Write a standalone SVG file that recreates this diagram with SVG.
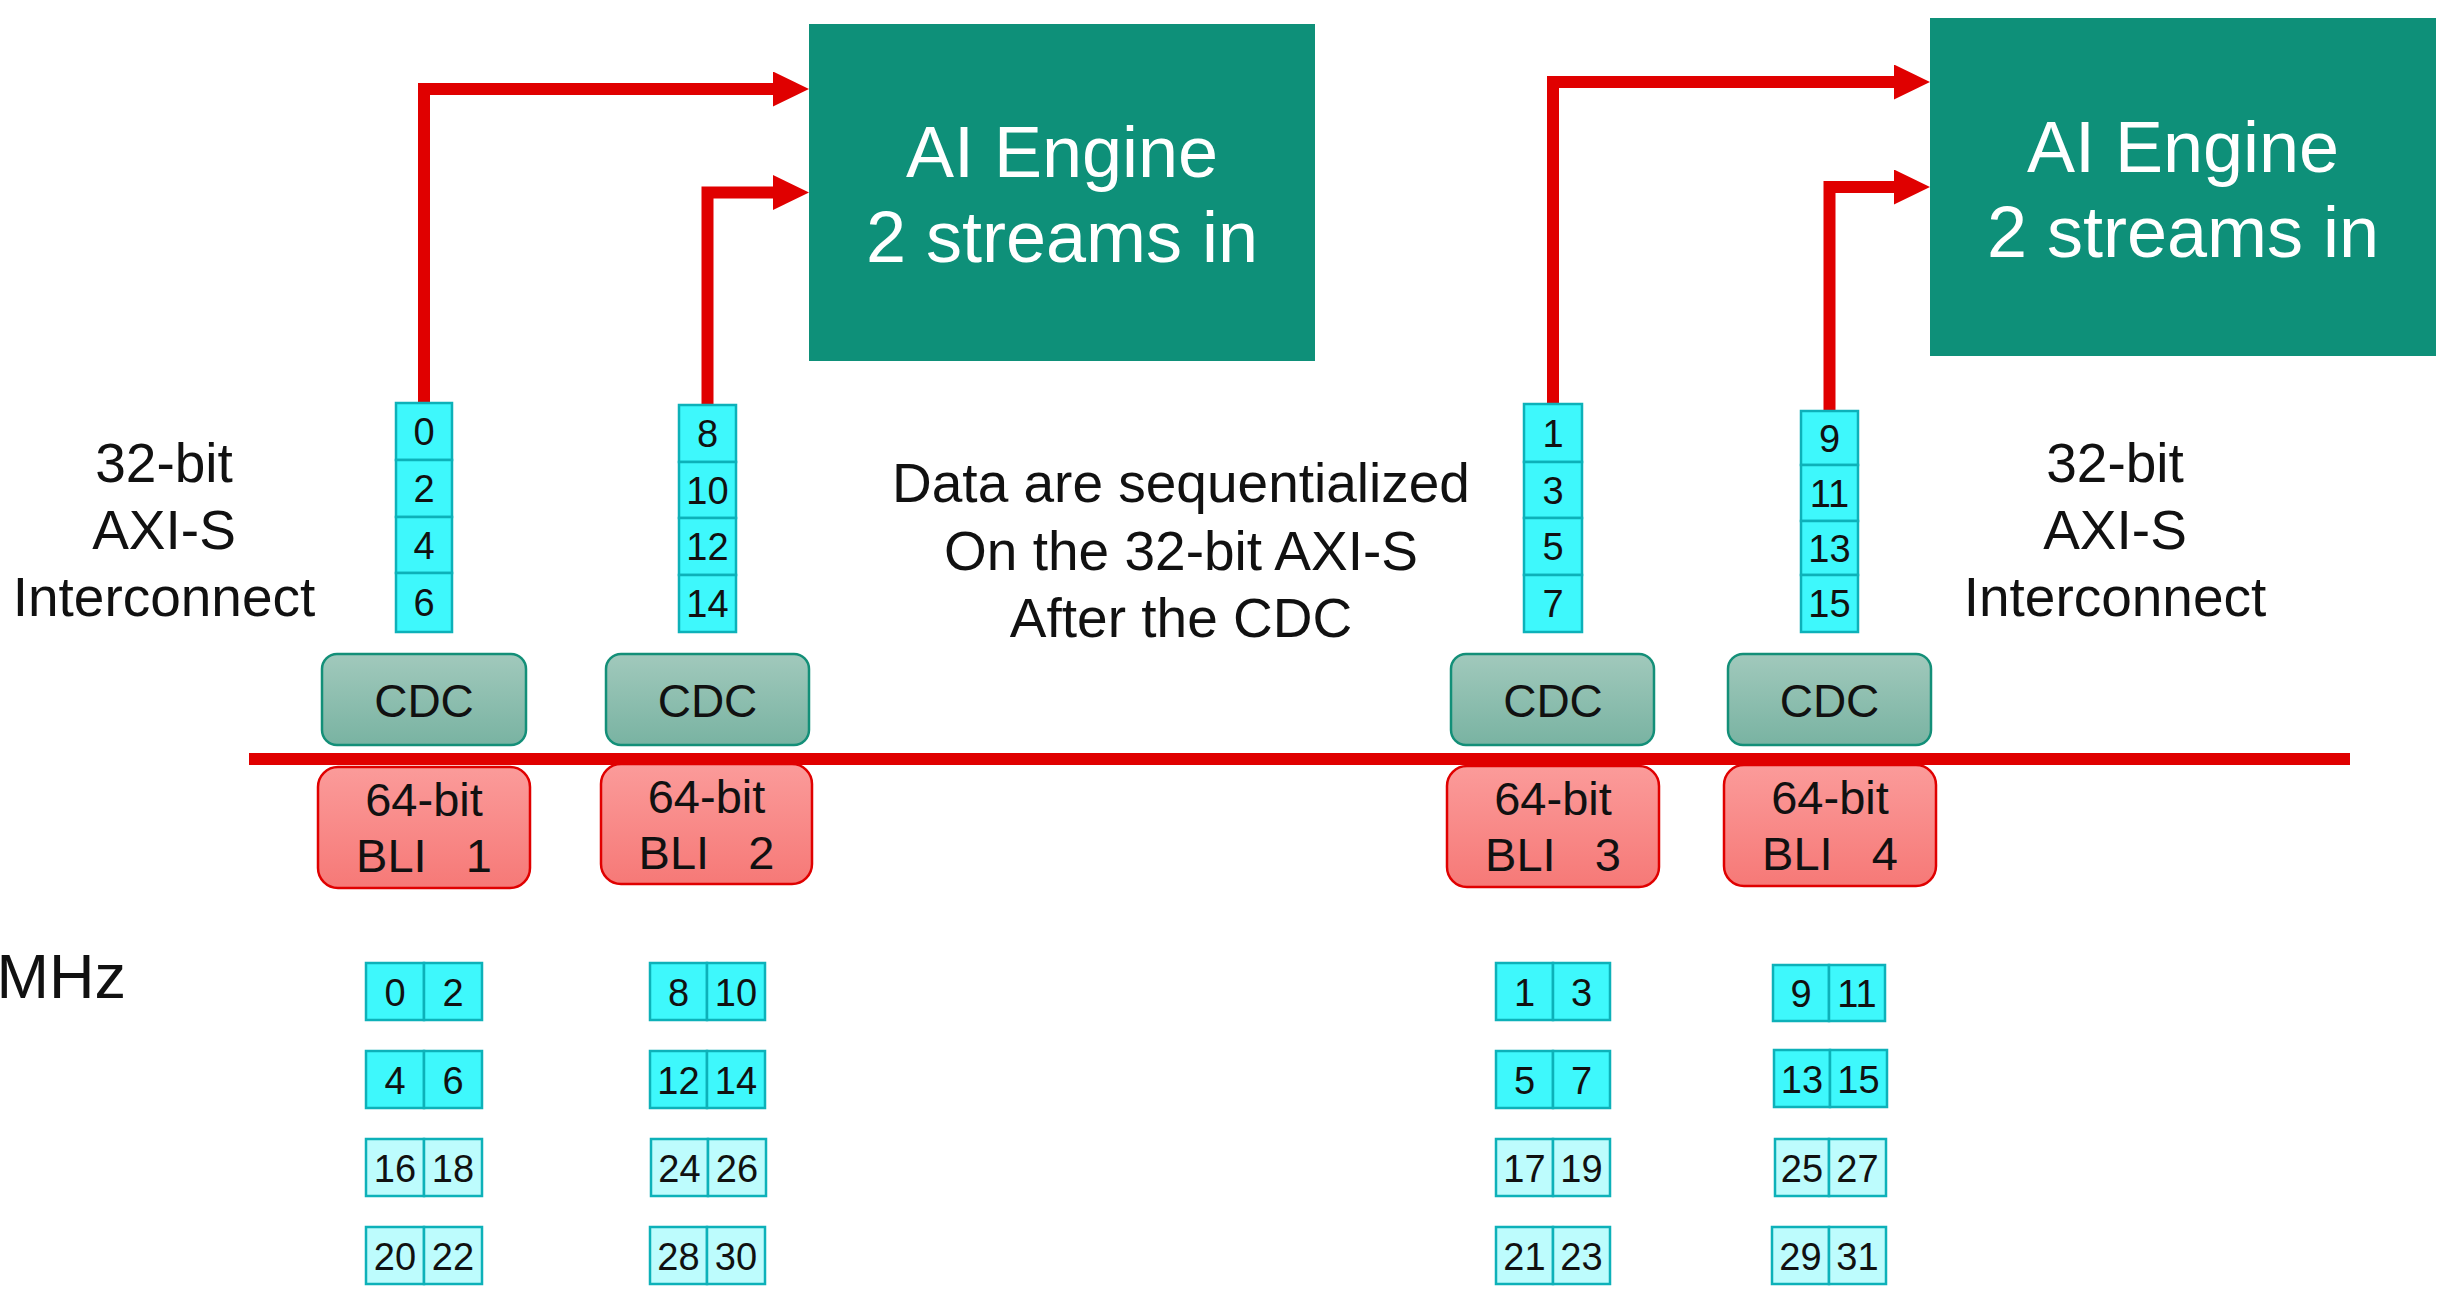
<svg xmlns="http://www.w3.org/2000/svg" width="2454" height="1291" viewBox="0 0 2454 1291">
<style>
text{font-family:"Liberation Sans",Arial,sans-serif;fill:#111;text-anchor:middle}
.c1{fill:#3ef8fc;stroke:#0db1b9;stroke-width:2.5}
.c2{fill:#bdfcfd;stroke:#0db1b9;stroke-width:2.5}
.num{font-size:38px}
.lbl{font-size:55px}
.cdc{fill:url(#gCdc);stroke:#138f78;stroke-width:2.5}
.cdct{font-size:46px}
.bli{fill:url(#gBli);stroke:#e00000;stroke-width:2.5}
.blit{font-size:47px;white-space:pre}
.ai{fill:#0e9079}
.ait{font-size:72px;fill:#ffffff}
.wire{fill:none;stroke:#e00000;stroke-width:12;stroke-linejoin:miter}
.bus{fill:#e00000}
</style>
<defs>
<linearGradient id="gCdc" x1="0" y1="0" x2="0" y2="1"><stop offset="0" stop-color="#a1c9bc"/><stop offset="1" stop-color="#79b3a2"/></linearGradient>
<linearGradient id="gBli" x1="0" y1="0" x2="0" y2="1"><stop offset="0" stop-color="#fb9b9a"/><stop offset="1" stop-color="#f67977"/></linearGradient>
<marker id="ah" viewBox="0 0 36 35" refX="0" refY="17.5" markerWidth="36" markerHeight="35" markerUnits="userSpaceOnUse" orient="auto"><path d="M0,0 L36,17.5 L0,35 z" fill="#e00000"/></marker>
</defs>
<rect width="2454" height="1291" fill="#ffffff"/>

<g id="ai-engine-1">
<rect class="ai" x="809" y="24" width="506" height="337"/>
<text class="ait" x="1062" y="177">AI Engine</text>
<text class="ait" x="1062" y="262">2 streams in</text>
</g>
<g id="ai-engine-2">
<rect class="ai" x="1930" y="18" width="506" height="338"/>
<text class="ait" x="2183" y="172">AI Engine</text>
<text class="ait" x="2183" y="257">2 streams in</text>
</g>

<g id="label-left">
<text class="lbl" x="164" y="482">32-bit</text>
<text class="lbl" x="164" y="549">AXI-S</text>
<text class="lbl" x="164" y="616">Interconnect</text>
</g>
<g id="label-right">
<text class="lbl" x="2115" y="482">32-bit</text>
<text class="lbl" x="2115" y="549">AXI-S</text>
<text class="lbl" x="2115" y="616">Interconnect</text>
</g>
<g id="label-center">
<text class="lbl" x="1181" y="502">Data are sequentialized</text>
<text class="lbl" x="1181" y="570">On the 32-bit AXI-S</text>
<text class="lbl" x="1181" y="637">After the CDC</text>
</g>
<g id="label-mhz">
<text style="font-size:63px;text-anchor:end" x="126" y="998">MHz</text>
</g>

<g id="connectors">
<rect class="bus" x="249" y="753" width="2101" height="12"/>
<path class="wire" d="M424,403 V89 H773" marker-end="url(#ah)"/>
<path class="wire" d="M707.5,405 V192.5 H773" marker-end="url(#ah)"/>
<path class="wire" d="M1553,404 V82 H1894" marker-end="url(#ah)"/>
<path class="wire" d="M1829.5,411 V187 H1894" marker-end="url(#ah)"/>
</g>

<g id="stack-1">
<rect class="c1" x="396" y="403" width="56" height="57"/>
<rect class="c1" x="396" y="460" width="56" height="57"/>
<rect class="c1" x="396" y="517" width="56" height="56"/>
<rect class="c1" x="396" y="573" width="56" height="59"/>
<text class="num" x="424" y="445">0</text>
<text class="num" x="424" y="502">2</text>
<text class="num" x="424" y="558.5">4</text>
<text class="num" x="424" y="616">6</text>
</g>
<g id="stack-2">
<rect class="c1" x="679" y="405" width="57" height="57"/>
<rect class="c1" x="679" y="462" width="57" height="56"/>
<rect class="c1" x="679" y="518" width="57" height="57"/>
<rect class="c1" x="679" y="575" width="57" height="57"/>
<text class="num" x="707.5" y="447">8</text>
<text class="num" x="707.5" y="503.5">10</text>
<text class="num" x="707.5" y="560">12</text>
<text class="num" x="707.5" y="617">14</text>
</g>
<g id="stack-3">
<rect class="c1" x="1524" y="404" width="58" height="58"/>
<rect class="c1" x="1524" y="462" width="58" height="56"/>
<rect class="c1" x="1524" y="518" width="58" height="57"/>
<rect class="c1" x="1524" y="575" width="58" height="57"/>
<text class="num" x="1553" y="446.5">1</text>
<text class="num" x="1553" y="503.5">3</text>
<text class="num" x="1553" y="560">5</text>
<text class="num" x="1553" y="617">7</text>
</g>
<g id="stack-4">
<rect class="c1" x="1801" y="411" width="57" height="54"/>
<rect class="c1" x="1801" y="465" width="57" height="56"/>
<rect class="c1" x="1801" y="521" width="57" height="54"/>
<rect class="c1" x="1801" y="575" width="57" height="57"/>
<text class="num" x="1829.5" y="451.5">9</text>
<text class="num" x="1829.5" y="506.5">11</text>
<text class="num" x="1829.5" y="561.5">13</text>
<text class="num" x="1829.5" y="617">15</text>
</g>

<g id="cdc-1"><rect class="cdc" x="322" y="654" width="204" height="91" rx="15"/><text class="cdct" x="424" y="717">CDC</text></g>
<g id="cdc-2"><rect class="cdc" x="606" y="654" width="203" height="91" rx="15"/><text class="cdct" x="707.5" y="717">CDC</text></g>
<g id="cdc-3"><rect class="cdc" x="1451" y="654" width="203" height="91" rx="15"/><text class="cdct" x="1553" y="717">CDC</text></g>
<g id="cdc-4"><rect class="cdc" x="1728" y="654" width="203" height="91" rx="15"/><text class="cdct" x="1829.5" y="717">CDC</text></g>

<g id="bli-1"><rect class="bli" x="318" y="767" width="212" height="121" rx="20"/><text class="blit" xml:space="preserve" x="424" y="816">64-bit</text><text class="blit" xml:space="preserve" x="424" y="872">BLI   1</text></g>
<g id="bli-2"><rect class="bli" x="601" y="764" width="211" height="120" rx="20"/><text class="blit" xml:space="preserve" x="706.5" y="813">64-bit</text><text class="blit" xml:space="preserve" x="706.5" y="869">BLI   2</text></g>
<g id="bli-3"><rect class="bli" x="1447" y="766" width="212" height="121" rx="20"/><text class="blit" xml:space="preserve" x="1553" y="815">64-bit</text><text class="blit" xml:space="preserve" x="1553" y="871">BLI   3</text></g>
<g id="bli-4"><rect class="bli" x="1724" y="765" width="212" height="121" rx="20"/><text class="blit" xml:space="preserve" x="1830" y="814">64-bit</text><text class="blit" xml:space="preserve" x="1830" y="870">BLI   4</text></g>

<g id="pairs-1">
<rect class="c1" x="366" y="963" width="58" height="57"/><rect class="c1" x="424" y="963" width="58" height="57"/>
<text class="num" x="395" y="1005.5">0</text><text class="num" x="453" y="1005.5">2</text>
<rect class="c1" x="366" y="1051" width="58" height="57"/><rect class="c1" x="424" y="1051" width="58" height="57"/>
<text class="num" x="395" y="1093.5">4</text><text class="num" x="453" y="1093.5">6</text>
<rect class="c2" x="366" y="1139" width="58" height="57"/><rect class="c2" x="424" y="1139" width="58" height="57"/>
<text class="num" x="395" y="1181.5">16</text><text class="num" x="453" y="1181.5">18</text>
<rect class="c2" x="366" y="1227" width="58" height="57"/><rect class="c2" x="424" y="1227" width="58" height="57"/>
<text class="num" x="395" y="1269.5">20</text><text class="num" x="453" y="1269.5">22</text>
</g>
<g id="pairs-2">
<rect class="c1" x="650" y="963" width="57" height="57"/><rect class="c1" x="707" y="963" width="58" height="57"/>
<text class="num" x="678.5" y="1005.5">8</text><text class="num" x="736" y="1005.5">10</text>
<rect class="c1" x="650" y="1051" width="57" height="57"/><rect class="c1" x="707" y="1051" width="58" height="57"/>
<text class="num" x="678.5" y="1093.5">12</text><text class="num" x="736" y="1093.5">14</text>
<rect class="c2" x="651" y="1139" width="57" height="57"/><rect class="c2" x="708" y="1139" width="58" height="57"/>
<text class="num" x="679.5" y="1181.5">24</text><text class="num" x="737" y="1181.5">26</text>
<rect class="c2" x="650" y="1227" width="57" height="57"/><rect class="c2" x="707" y="1227" width="58" height="57"/>
<text class="num" x="678.5" y="1269.5">28</text><text class="num" x="736" y="1269.5">30</text>
</g>
<g id="pairs-3">
<rect class="c1" x="1496" y="963" width="57" height="57"/><rect class="c1" x="1553" y="963" width="57" height="57"/>
<text class="num" x="1524.5" y="1005.5">1</text><text class="num" x="1581.5" y="1005.5">3</text>
<rect class="c1" x="1496" y="1051" width="57" height="57"/><rect class="c1" x="1553" y="1051" width="57" height="57"/>
<text class="num" x="1524.5" y="1093.5">5</text><text class="num" x="1581.5" y="1093.5">7</text>
<rect class="c2" x="1496" y="1139" width="57" height="57"/><rect class="c2" x="1553" y="1139" width="57" height="57"/>
<text class="num" x="1524.5" y="1181.5">17</text><text class="num" x="1581.5" y="1181.5">19</text>
<rect class="c2" x="1496" y="1227" width="57" height="57"/><rect class="c2" x="1553" y="1227" width="57" height="57"/>
<text class="num" x="1524.5" y="1269.5">21</text><text class="num" x="1581.5" y="1269.5">23</text>
</g>
<g id="pairs-4">
<rect class="c1" x="1773" y="965" width="56" height="56"/><rect class="c1" x="1829" y="965" width="56" height="56"/>
<text class="num" x="1801" y="1007">9</text><text class="num" x="1857" y="1007">11</text>
<rect class="c1" x="1774" y="1050" width="56" height="57"/><rect class="c1" x="1830" y="1050" width="57" height="57"/>
<text class="num" x="1802" y="1092.5">13</text><text class="num" x="1858.5" y="1092.5">15</text>
<rect class="c2" x="1775" y="1139" width="54" height="57"/><rect class="c2" x="1829" y="1139" width="57" height="57"/>
<text class="num" x="1802" y="1181.5">25</text><text class="num" x="1857.5" y="1181.5">27</text>
<rect class="c2" x="1772" y="1227" width="57" height="57"/><rect class="c2" x="1829" y="1227" width="57" height="57"/>
<text class="num" x="1800.5" y="1269.5">29</text><text class="num" x="1857.5" y="1269.5">31</text>
</g>
</svg>
